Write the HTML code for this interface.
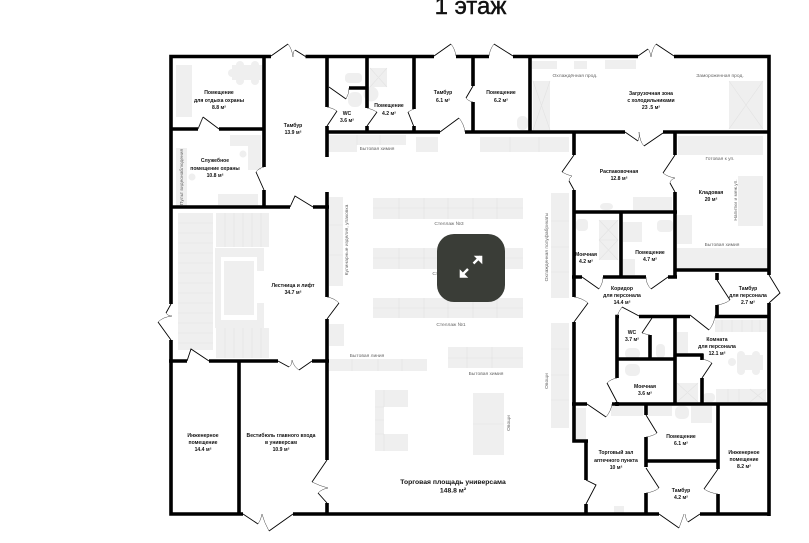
<!DOCTYPE html>
<html><head><meta charset="utf-8">
<style>
html,body{margin:0;padding:0;background:#fff;width:809px;height:543px;overflow:hidden}
svg{display:block}
text{font-family:"Liberation Sans","DejaVu Sans",sans-serif}
.f rect,.f circle,.f path.s{fill:#efefef}
.dv{stroke:#e2e2e2;stroke-width:.6;fill:none}
.w{stroke:#000;stroke-width:3.6;fill:none}
.d{stroke:#000;stroke-width:.9;fill:none}
.a{stroke:#444;stroke-width:.5;fill:none}
.l text{font-size:5.1px;font-weight:700;text-anchor:middle;fill:#111}
.t text{font-size:4.9px;text-anchor:middle;fill:#666}
</style></head><body>
<svg width="809" height="543" viewBox="0 0 809 543" xmlns="http://www.w3.org/2000/svg">
<rect width="809" height="543" fill="#fff"/>
<text x="470.500" y="14" font-size="24" font-weight="400" text-anchor="middle" fill="#111" stroke="#111" stroke-width=".45">1 этаж</text>

<g class="f">
<rect x="176" y="65" width="16" height="52"/>
<rect x="232" y="65" width="30" height="15"/>
<circle cx="232" cy="73" r="4"/><circle cx="240" cy="65" r="4"/><circle cx="255" cy="65" r="4"/><circle cx="240" cy="81" r="4"/><circle cx="255" cy="81" r="4"/>
<path class="s" d="M230 135H261V170H248V146H230Z"/>
<circle cx="243" cy="154" r="3.500"/>
<rect x="176" y="148" width="11" height="59"/>
<circle cx="192" cy="177" r="3.500"/>
<rect x="345" y="73" width="17" height="10" rx="4"/>
<rect x="348" y="92" width="14" height="15" rx="6"/>
<rect x="370" y="68" width="17" height="19"/>
<circle cx="371" cy="94" r="7.500"/>
<rect x="328" y="135" width="29" height="17"/>
<rect x="357" y="135" width="49" height="10"/>
<rect x="416" y="137" width="22" height="15"/>
<rect x="480" y="137" width="89" height="15"/>
<rect x="517" y="116" width="11" height="14" rx="5"/>
<rect x="532" y="61" width="25" height="8"/>
<rect x="574" y="61" width="13" height="8"/>
<rect x="605" y="60" width="31" height="9"/>
<rect x="533" y="81" width="17" height="49"/>
<rect x="729" y="81" width="34" height="48"/>
<rect x="678" y="136" width="85" height="19"/>
<rect x="738" y="176" width="25" height="50"/>
<rect x="633" y="197" width="39" height="13"/>
<rect x="600" y="203" width="13" height="7" rx="5"/>
<rect x="677" y="215" width="15" height="29"/>
<rect x="677" y="248" width="91" height="22"/>
<rect x="576" y="219" width="12" height="12" rx="4"/>
<rect x="599" y="220" width="19" height="40"/>
<rect x="623" y="222" width="19" height="20"/>
<rect x="623" y="259" width="12" height="16"/>
<rect x="657" y="220" width="16" height="12" rx="4"/>
<rect x="625" y="348" width="15" height="11" rx="5"/>
<rect x="656" y="344" width="9" height="14" rx="4"/>
<rect x="677" y="332" width="11" height="21"/>
<rect x="715" y="320" width="52" height="12"/>
<rect x="737" y="355" width="26" height="15"/>
<circle cx="741" cy="355" r="4"/><circle cx="756" cy="355" r="4"/><circle cx="741" cy="371" r="4"/><circle cx="756" cy="371" r="4"/><circle cx="732" cy="362" r="4"/>
<rect x="677" y="383" width="21" height="19"/>
<rect x="703" y="393" width="12" height="9" rx="4"/>
<rect x="716" y="389" width="50" height="13"/>
<rect x="625" y="364" width="15" height="12" rx="5"/>
<rect x="611" y="406" width="32" height="10"/>
<rect x="648" y="406" width="24" height="10"/>
<rect x="675" y="406" width="14" height="13" rx="5"/>
<rect x="691" y="406" width="21" height="17"/>
<rect x="576" y="408" width="10" height="31"/>
<rect x="614" y="506" width="10" height="7"/>
<rect x="373" y="198" width="150" height="21"/>
<rect x="373" y="248" width="150" height="21"/>
<rect x="373" y="298" width="150" height="20"/>
<rect x="329" y="197" width="14" height="89"/>
<rect x="329" y="324" width="15" height="22"/>
<rect x="329" y="359" width="98" height="12"/>
<rect x="448" y="347" width="75" height="21"/>
<path class="s" d="M375 390H408V407H384V434H408V451H375Z"/>
<rect x="473" y="393" width="31" height="62"/>
<rect x="551" y="193" width="18" height="105"/>
<rect x="551" y="323" width="18" height="105"/>
<rect x="178" y="213" width="35" height="137"/>
<rect x="216" y="213" width="53" height="34"/>
<rect x="216" y="328" width="53" height="30"/>
<rect x="218" y="194" width="40" height="11"/>
<path class="s" fill-rule="evenodd" d="M215 248H264V271H257V257H221V320H257V303H264V328H215Z"/>
<rect x="224" y="261" width="30" height="54"/>
</g>

<path class="dv" d="M510 137V152M539 137V152M357 135V145M380 135V145
M373 208H523M399 198V219M424 198V219M448 198V219M473 198V219M497 198V219
M373 258H523M399 248V269M424 248V269M448 248V269M473 248V269M497 248V269
M373 308H523M399 298V318M424 298V318M448 298V318M473 298V318M497 298V318
M329 225H343M329 255H343M352 359V371M378 359V371M402 359V371
M448 358H523M467 347V368M492 347V368
M375 407H384M375 434H384M384 390V407M384 434V451M375 420H384
M473 424H504M551 221H569M551 247H569M551 272H569M551 349H569M551 375H569M551 400H569
M178 223H213M178 233H213M178 243H213M178 253H213M178 263H213M178 273H213M178 283H213M178 293H213M178 303H213M178 313H213M178 323H213M178 333H213M178 343H213
M225 213V247M234 213V247M243 213V247M252 213V247M261 213V247
M225 328V358M234 328V358M243 328V358M252 328V358M261 328V358
M533 81L550 130M550 81L533 130M729 81L763 129M763 81L729 129M370 68L387 87M387 68L370 87
M599 240H618M599 220L618 240M618 220L599 240M599 240L618 260M618 240L599 260
M677 383L698 402M698 383L677 402M750 389L766 402M766 389L750 402M728 389V402M739 389V402
M722 320V332M732 320V332M742 320V332M752 320V332M760 320V332"/>

<!-- walls -->
<path class="w" d="
M169.200 56.500H271M305.500 56.500H434M456 56.500H489M513 56.500H638M674 56.500H770.800
M171 55V304M171 340V515.800
M769 55V275M769 303V516
M169.200 514H243M293 514H659M700 514H770.800
M264 56V167M264 190V208
M171 129H198M219 129H264
M171 207H290M313 207H329
M327 56V107M327 126V157M327 192V297M327 319V361M327 360V460M327 503V514
M327 132H440M465 132H625M663 132H770
M367 56V108M367 126V132M414 56V109M414 126V132M349 88H367
M473 56V86M473 102V132M530 56V132
M574 131V155M574 190V297M574 322V442M572.200 441H588M586 440V480M586 504V514
M675 131V155M675 192V278M675 270H770
M574 212H677M621 212V278
M572 277H582M603 277H646M668 277H677
M169 361H187M209 361H278M312 361H329M239 361V514
M619 316.500H615.200M617 315V378M617 402V406
M639 316.500H690M715 316.500H770
M717 273V280M717 305V316
M675 316V405M617 359H675M650 335V359M675 355H703M702 353.500V360M702 378V405
M572 404H587M612 404H770
M646 404V415M646 437V467M646 493V514M646 461H718M718 404V469M718 494V514"/>

<!-- doors -->
<path class="d" d="
M271 56L288 44M305.500 56.500L295 50M434 56L451 44M513 56L494 44M638 56L648 49M674 56L656 44
M440 132L459 118M625 132L638 141M663 133L644 146
M198 129L203 117M203 117L219 129M327 126L337 111M329 87L346 99M367 126L377 112M414 127L408 112M473 86L466 98
M574 155L562 172M574 190L569 181M675 155L663 173M675 192L670 183
M264 190L256 172M290 207L295 196L313 207M327 319L339 303
M171 304L166 313M171 340L158 322
M187 361L191 349L209 361M278 361L289 367M312 361L299 370
M327 460L312 482M327 503L318 493M243 514L258 524M293 514L269 531
M582 277L599 289M668 277L651 289M574 322L588 303M639 316L622 307M690 315L709 330M717 280L730 300
M769 275L780 293L769 303M652 318L642 333M702 378L712 363M617 402L607 383
M587 404L606 417M646 415L657 433M646 468L659 488M718 469L704 489M659 514L679 528M700 514L688 522M586 480L596 485L586 504"/>
<path class="a" d="
M288 44Q292 49 293 57M295 50Q293 51 293 57M451 44Q455 49 456 56M494 44Q490 49 489 56M656 44Q652 49 651 57M648 49Q650 51 651 57
M459 118Q464 124 465 132M638 141Q640 136 639 132M644 146Q640 142 639 132
M203 117L198 129M337 111Q333 108 327 107M346 99Q349 94 349 88M377 112Q372 109 367 108M408 112Q411 110 414 109M466 98Q468 101 473 102
M562 172Q567 175 572 176M569 181Q569 178 572 176M663 173Q668 177 675 178M670 183Q670 180 675 178
M256 172Q259 168 264 167M339 303Q334 298 327 297
M166 313Q168 316 172 316M158 322Q163 317 172 316
M289 367Q292 365 292 360M299 370Q294 367 292 360M312 482Q320 486 328 488M318 493Q322 489 328 488M258 524Q261 520 262 514M269 531Q264 522 262 514
M599 289Q603 283 603 277M651 289Q646 284 646 277M588 303Q582 298 574 297M622 307Q619 311 617 316M709 330Q714 324 715 316M730 300Q725 304 717 305
M642 333Q645 334 650 335M712 363Q708 360 702 359M607 383Q611 379 617 378M606 417Q611 411 612 404M657 433Q653 436 646 437M659 488Q654 492 646 493M704 489Q710 493 718 494M679 528Q682 520 684 514M688 522Q686 520 685 514"/>

<!-- fixture labels -->
<g class="t">
<text x="377" y="150">Бытовая химия</text>
<text x="575" y="77">Охлаждённая прод.</text>
<text x="720" y="77">Замороженная прод.</text>
<text x="720" y="160">Готовая к уп.</text>
<text x="722" y="246">Бытовая химия</text>
<text x="449" y="225">Стеллаж №3</text>
<text x="447" y="275">Стеллаж №2</text>
<text x="451" y="326">Стеллаж №1</text>
<text x="367" y="357">Бытовая линия</text>
<text x="486" y="375">Бытовая химия</text>
<text transform="translate(183,177) rotate(-90)">Пульт видеонаблюдения</text>
<text transform="translate(348,240) rotate(-90)">Кулинарные изделия, упаковка</text>
<text transform="translate(548,247) rotate(-90)">Охлажденная полуфабрикаты</text>
<text transform="translate(548,381) rotate(-90)">Овощи</text>
<text transform="translate(510,423) rotate(-90)">Овощи</text>
<text transform="translate(737,200) rotate(-90)">Напитки и меж.уп.</text>
</g>

<!-- room labels -->
<g class="l">
<text x="219" y="94">Помещение</text><text x="219" y="102">для отдыха охраны</text><text x="219" y="109">8.8 м²</text>
<text x="215" y="162">Служебное</text><text x="215" y="170">помещение охраны</text><text x="215" y="177">10.8 м²</text>
<text x="293" y="127">Тамбур</text><text x="293" y="134">13.9 м²</text>
<text x="347" y="115">WC</text><text x="347" y="122">3.6 м²</text>
<text x="389" y="107">Помещение</text><text x="389" y="115">4.2 м²</text>
<text x="443" y="94">Тамбур</text><text x="443" y="102">6.1 м²</text>
<text x="501" y="94">Помещение</text><text x="501" y="102">6.2 м²</text>
<text x="651" y="95">Загрузочная зона</text><text x="651" y="102">с холодильниками</text><text x="651" y="109">23 .5 м²</text>
<text x="619" y="173">Распаковочная</text><text x="619" y="180">12.8 м²</text>
<text x="711" y="194">Кладовая</text><text x="711" y="201">20 м²</text>
<text x="586" y="256">Моечная</text><text x="586" y="263">4.2 м²</text>
<text x="650" y="254">Помещение</text><text x="650" y="261">4.7 м²</text>
<text x="622" y="290">Коридор</text><text x="622" y="297">для персонала</text><text x="622" y="304">14.4 м²</text>
<text x="748" y="290">Тамбур</text><text x="748" y="297">для персонала</text><text x="748" y="304">2.7 м²</text>
<text x="632" y="334">WC</text><text x="632" y="341">3.7 м²</text>
<text x="717" y="341">Комната</text><text x="717" y="348">для персонала</text><text x="717" y="355">12.1 м²</text>
<text x="645" y="388">Моечная</text><text x="645" y="395">3.6 м²</text>
<text x="681" y="438">Помещение</text><text x="681" y="445">6.1 м²</text>
<text x="744" y="454">Инженерное</text><text x="744" y="461">помещение</text><text x="744" y="468">8.2 м²</text>
<text x="616" y="454">Торговый зал</text><text x="616" y="462">аптечного пункта</text><text x="616" y="469">10 м²</text>
<text x="681" y="492">Тамбур</text><text x="681" y="499">4.2 м²</text>
<text x="293" y="287">Лестница и лифт</text><text x="293" y="294">34.7 м²</text>
<text x="203" y="437">Инженерное</text><text x="203" y="444">помещение</text><text x="203" y="451">14.4 м²</text>
<text x="281" y="437">Вестибюль главного входа</text><text x="281" y="444">в универсам</text><text x="281" y="451">10.9 м²</text>
<text x="453" y="484" style="font-size:6.800px">Торговая площадь универсама</text>
<text x="453" y="492.500" style="font-size:6.800px">148.8 м²</text>
</g>

<!-- expand button -->
<rect x="437" y="234" width="68" height="68" rx="17" fill="#3a3d37"/>
<path d="M461.500 275.500L468 269M473.500 263.500L480.500 256.500" stroke="#fff" stroke-width="2.400" fill="none"/>
<path d="M460 270V277.500H467.500ZM474.500 256H482V263.500Z" fill="#fff" stroke="#fff" stroke-width=".6"/>
</svg>
</body></html>
